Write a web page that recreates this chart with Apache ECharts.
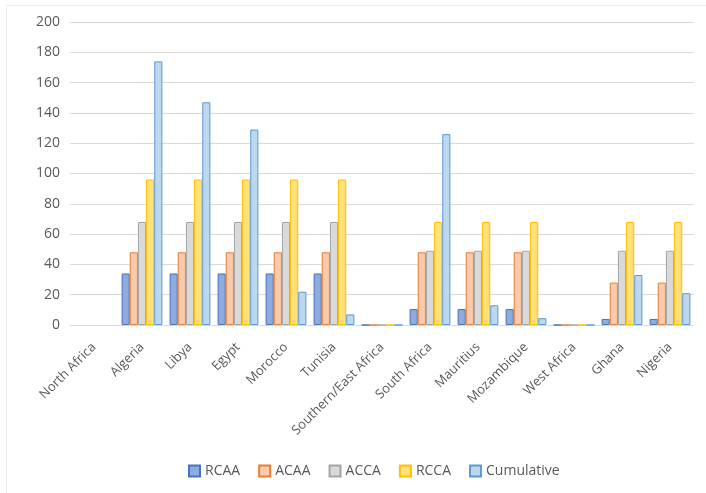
<!DOCTYPE html>
<html>
<head>
<meta charset="utf-8">
<script src="https://cdn.jsdelivr.net/npm/echarts@6/dist/echarts.min.js"></script>
<style>
  html, body { margin: 0; padding: 0; background: #fff; }
  #chart { width: 706px; height: 493px; }
</style>
</head>
<body>
<div id="chart"></div>
<script>
// Regions and countries along the category axis
const categories = ['North Africa', 'Algeria', 'Libya', 'Egypt', 'Morocco', 'Tunisia',
  'Southern/East Africa', 'South Africa', 'Mauritius', 'Mozambique', 'West Africa', 'Ghana', 'Nigeria'];

// Series values per category (null = no bar drawn)
const rcaa       = [null, 34, 34, 34, 34, 34, 0, 10.5, 10.5, 10.5, 0, 4, 4];
const acaa       = [null, 48, 48, 48, 48, 48, 0, 48, 48, 48, 0, 28, 28];
const acca       = [null, 68, 68, 68, 68, 68, 0, 49, 49, 49, 0, 49, 49];
const rcca       = [null, 96, 96, 96, 96, 96, 0, 68, 68, 68, 0, 68, 68];
const cumulative = [null, 174, 147, 129, 22, 7, 0, 126, 13, 4.5, 0, 33, 21];

const yTicks = { min: 0, max: 200, interval: 20 };

function bar(name, data, fill, border) {
  return {
    name: name,
    type: 'bar',
    data: data,
    barGap: '0%',
    barCategoryGap: '15%',
    itemStyle: { color: fill, borderColor: border, borderWidth: 1 },
    emphasis: { disabled: true }
  };
}

const chart = echarts.init(document.getElementById('chart'), null, { renderer: 'canvas' });
chart.setOption({
  animation: false,
  textStyle: { fontFamily: '"Open Sans", "Noto Sans", sans-serif' },
  // faint outer frame of the chart area
  graphic: [
    { type: 'line', shape: { x1: 6, y1: 5.5, x2: 706, y2: 5.5 }, style: { stroke: '#ececec', lineWidth: 1 } },
    { type: 'line', shape: { x1: 6.5, y1: 5, x2: 6.5, y2: 493 }, style: { stroke: '#ececec', lineWidth: 1 } }
  ],
  grid: { left: 70, right: 12, top: 22, bottom: 168 },
  legend: {
    top: 459,
    left: 183,
    itemWidth: 11,
    itemHeight: 11,
    itemGap: 18,
    icon: 'rect',
    textStyle: { color: '#595959', fontSize: 14 },
    data: ['RCAA', 'ACAA', 'ACCA', 'RCCA', 'Cumulative']
  },
  xAxis: {
    type: 'category',
    data: categories,
    axisLine: { show: false },
    axisTick: { show: false },
    axisLabel: { rotate: 45, color: '#595959', fontSize: 13, margin: 20, interval: 0 }
  },
  yAxis: {
    type: 'value',
    min: yTicks.min,
    max: yTicks.max,
    interval: yTicks.interval,
    axisLine: { show: false },
    axisTick: { show: false },
    axisLabel: { color: '#595959', fontSize: 14, margin: 10 },
    splitLine: { lineStyle: { color: '#d9d9d9', width: 1 } }
  },
  series: [
    bar('RCAA', rcaa, '#8faadc', '#4472c4'),
    bar('ACAA', acaa, '#f8cbad', '#ed7d31'),
    bar('ACCA', acca, '#d9d9d9', '#a5a5a5'),
    bar('RCCA', rcca, '#ffe07a', '#ffc000'),
    bar('Cumulative', cumulative, '#bdd7ee', '#5b9bd5')
  ]
});
</script>
</body>
</html>
